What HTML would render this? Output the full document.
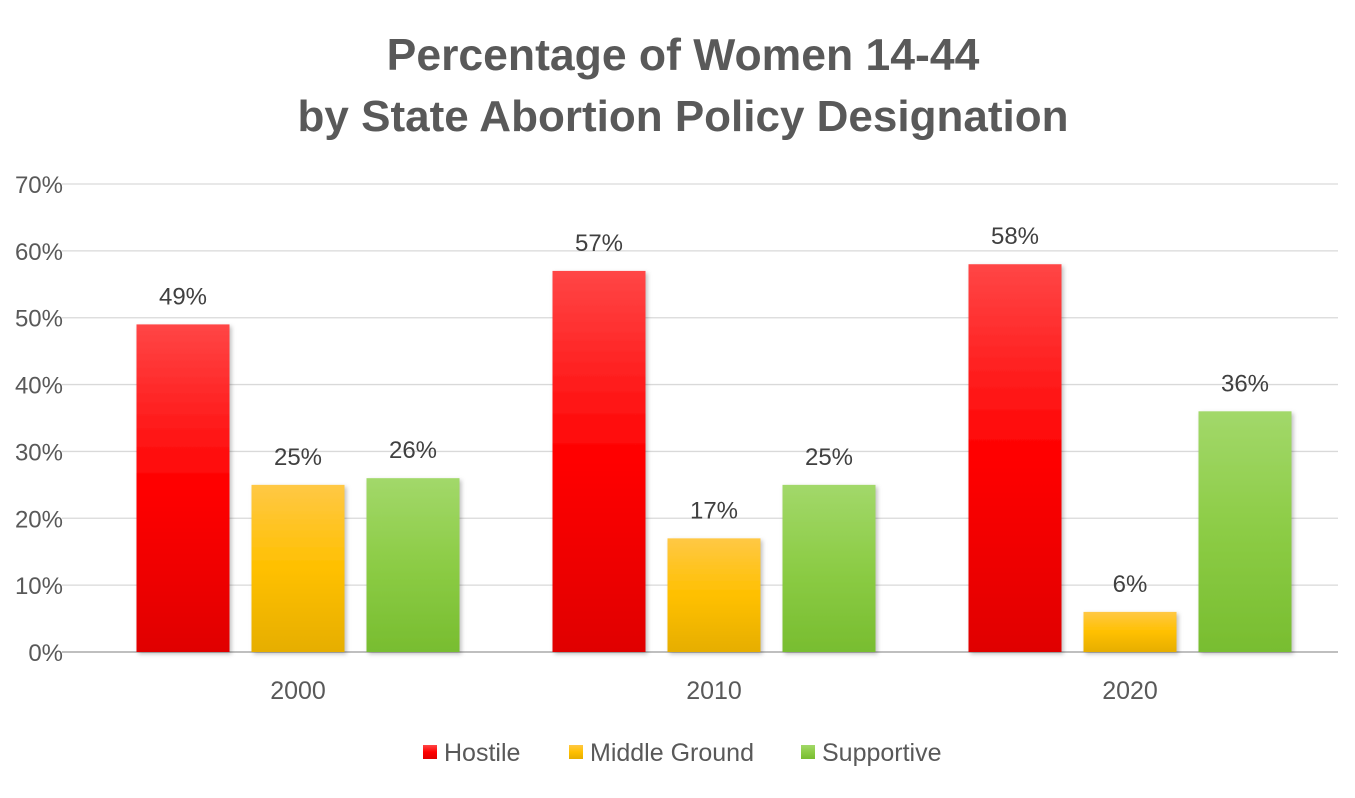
<!DOCTYPE html>
<html><head><meta charset="utf-8"><style>
body{margin:0;background:#fff;}
svg{display:block;font-family:"Liberation Sans",sans-serif;}
</style></head><body>
<svg id="chart" width="1355" height="798" viewBox="0 0 1355 798">
<defs>
<linearGradient id="gH" x1="0" y1="0" x2="0" y2="1"><stop offset="0" stop-color="#ff4646"/><stop offset="0.5" stop-color="#ff0000"/><stop offset="1" stop-color="#e00000"/></linearGradient>
<linearGradient id="gM" x1="0" y1="0" x2="0" y2="1"><stop offset="0" stop-color="#ffc845"/><stop offset="0.5" stop-color="#ffc000"/><stop offset="1" stop-color="#e6ae00"/></linearGradient>
<linearGradient id="gS" x1="0" y1="0" x2="0" y2="1"><stop offset="0" stop-color="#a2d86a"/><stop offset="0.5" stop-color="#8ccc45"/><stop offset="1" stop-color="#78bd30"/></linearGradient>
<filter id="sh" x="-10%" y="-10%" width="130%" height="130%"><feDropShadow dx="2" dy="2" stdDeviation="2" flood-color="#000" flood-opacity="0.25"/></filter>
</defs>
<text x="683" y="70" text-anchor="middle" font-size="44.5" font-weight="bold" fill="#595959">Percentage of Women 14-44</text>
<text x="683" y="131" text-anchor="middle" font-size="44" font-weight="bold" fill="#595959">by State Abortion Policy Designation</text>
<g id="grid"></g><g id="bars"></g><g id="labels"></g>
<g>
<rect x="423" y="745" width="14" height="14" fill="url(#gH)"/>
<text x="444" y="761" font-size="25" fill="#595959">Hostile</text>
<rect x="569" y="745" width="14" height="14" fill="url(#gM)"/>
<text x="590" y="761" font-size="25" fill="#595959">Middle Ground</text>
<rect x="801" y="745" width="14" height="14" fill="url(#gS)"/>
<text x="822" y="761" font-size="25" fill="#595959">Supportive</text>
</g>
</svg>
<script>
const categories = ["2000","2010","2020"];
const hostile = [49,57,58];
const middleGround = [25,17,6];
const supportive = [26,25,36];
const yTicks = [0,10,20,30,40,50,60,70];

const NS="http://www.w3.org/2000/svg";
const y0=652, yTop=184, yMax=70;
function yScale(v){return y0-(v/yMax)*(y0-yTop);}
const gridL=62, plotL=90, plotR=1338, groupW=(plotR-plotL)/categories.length;
function xCenter(i){return plotL+groupW*(i+0.5);}
const barW=93, pitch=115;
function mk(tag,attrs,parent){const e=document.createElementNS(NS,tag);for(const k in attrs)e.setAttribute(k,attrs[k]);parent.appendChild(e);return e;}
const grid=document.getElementById('grid'), bars=document.getElementById('bars'), labels=document.getElementById('labels');
yTicks.forEach(t=>{
  const y=yScale(t);
  const l=mk('line',{x1:gridL,x2:plotR,y1:y,y2:y,stroke:t===0?'#bfbfbf':'#d9d9d9','stroke-width':t===0?2:1.3},grid);
  
  
  const tx=mk('text',{x:63,y:y+9,'text-anchor':'end','font-size':24,fill:'#595959'},grid);
  tx.textContent=t+'%';
  
  
});
const series=[[hostile,'url(#gH)','hostile'],[middleGround,'url(#gM)','middle-ground'],[supportive,'url(#gS)','supportive']];
categories.forEach((c,i)=>{
  const cx=xCenter(i);
  series.forEach((s,j)=>{
    const v=s[0][i];
    const bx=cx+(j-1)*pitch-barW/2;
    const y=yScale(v);
    const r=mk('rect',{x:bx,y:y,width:barW,height:y0-y,fill:s[1],filter:'url(#sh)'},bars);
    
    
    const t=mk('text',{x:bx+barW/2,y:y-20,'text-anchor':'middle','font-size':24,fill:'#404040'},labels);
    t.textContent=v+'%';
    
    
  });
  const xl=mk('text',{x:cx,y:699,'text-anchor':'middle','font-size':25,fill:'#595959'},labels);
  xl.textContent=c;
  
  
});
</script>
</body></html>
